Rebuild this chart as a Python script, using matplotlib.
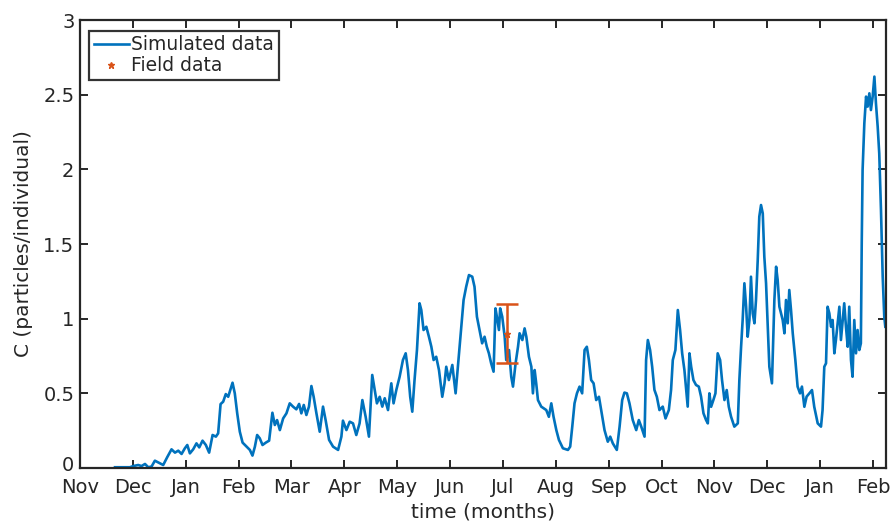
import numpy as np
import matplotlib
matplotlib.use("Agg")
import matplotlib.pyplot as plt
import matplotlib.transforms as mtransforms

# simulated concentration, time in days from 1 Nov
t_sim = [20.2, 25.0, 28.8, 30.7, 33.6, 35.5, 37.5, 39.4, 41.3, 43.2, 46.1, 48.0, 50.3, 52.8,
         54.8, 56.7, 58.6, 60.5, 61.9, 63.4, 65.3, 67.2, 68.8, 70.7, 72.6, 74.5, 76.5, 78.4,
         79.7, 81.1, 82.6, 84.1, 85.5, 86.8, 88.0, 89.3, 90.7, 92.2, 93.8, 96.1, 98.0, 99.5,
         100.9, 102.2, 103.7, 105.3, 107.2, 109.1, 111.0, 112.4, 113.7, 115.3, 117.2, 119.1,
         121.0, 122.9, 124.8, 126.4, 127.7, 129.1, 130.6, 132.1, 133.5, 134.8, 136.4, 138.3,
         140.2, 141.7, 143.7, 146.0, 148.9, 150.8, 151.7, 153.7, 155.6, 157.5, 159.4, 161.3,
         162.9, 164.8, 166.7, 168.6, 170.0, 171.3, 172.9, 174.4, 175.8, 177.7, 179.6, 180.9,
         182.5, 184.4, 186.3, 187.9, 189.2, 190.5, 191.7, 193.0, 194.4, 195.9, 196.9, 198.2,
         199.8, 201.3, 202.7, 204.0, 205.5, 207.1, 209.0, 210.3, 211.3, 212.8, 214.8, 216.7,
         218.0, 219.9, 221.3, 222.8, 224.4, 226.3, 227.6, 229.0, 230.5, 232.0, 233.4, 234.7,
         235.9, 237.2, 238.6, 239.7, 240.5, 241.7, 242.4,
         243.6, 245.0, 245.9, 247.5, 248.8, 249.8, 251.3, 252.7, 253.6, 255.2, 256.5, 257.5,
         259.0, 260.4, 261.3, 262.3, 263.2, 264.2, 266.1, 269.0, 270.5, 271.9, 273.2, 274.8,
         276.3, 278.6, 281.5, 282.8, 284.0, 285.3, 286.7, 288.2, 289.7, 291.1, 292.4, 293.6,
         294.9, 296.3, 297.8, 299.4, 300.7, 302.6, 304.5, 305.9, 307.4, 309.7, 311.3, 312.8,
         314.1, 315.5, 317.0, 318.9, 320.9, 322.4, 323.8, 325.7, 326.6, 327.6, 328.9, 330.1,
         331.4, 332.8, 334.3, 336.2, 337.8, 339.7, 341.0, 342.0, 343.5, 344.9, 346.2, 347.4,
         348.7, 350.6,
         351.6, 352.6, 353.9, 355.4, 357.0, 358.3, 359.7, 361.2, 362.2, 363.1, 364.1, 365.4,
         366.6, 367.9, 369.3, 370.4, 371.8, 373.1, 374.3, 375.6, 377.5, 379.5, 380.4, 381.4,
         382.3, 383.3, 384.3, 385.2, 386.2, 387.1, 388.1, 389.1, 390.0, 391.0, 391.9, 392.9,
         393.9, 394.8, 395.8, 396.7, 397.7, 399.2, 400.6, 401.6, 402.5, 403.5, 405.4, 406.4,
         407.3, 408.3, 409.2, 410.2, 411.2, 412.7, 414.0, 415.4, 416.5, 417.9, 419.2, 420.8,
         422.3, 423.6, 425.6, 427.5, 428.4, 429.4, 430.4, 431.3, 432.3, 433.3, 434.2, 435.2,
         436.1, 438.1, 439.0, 440.0, 440.9, 441.9, 442.9, 443.8, 444.8, 445.7, 446.7, 447.7,
         448.6, 449.6, 450.5,
         451.0, 451.5, 452.5, 453.5, 454.4, 455.4, 456.3, 457.3, 458.3, 459.2, 460.2, 461.1,
         462.1, 463.1, 464.0, 464.6]

c_sim = [0.005, 0.005, 0.005, 0.013, 0.02, 0.013, 0.027, 0.005, 0.01, 0.049, 0.031, 0.02, 0.072, 0.125,
         0.103, 0.116, 0.094, 0.132, 0.154, 0.098, 0.125, 0.165, 0.138, 0.183, 0.154, 0.103, 0.221, 0.21,
         0.232, 0.428, 0.444, 0.495, 0.477, 0.527, 0.571, 0.5, 0.366, 0.243, 0.17, 0.143, 0.121, 0.083,
         0.143, 0.221, 0.199, 0.154, 0.17, 0.183, 0.37, 0.288, 0.321, 0.254, 0.332, 0.366,
         0.433, 0.411, 0.393, 0.429, 0.366, 0.422, 0.355, 0.411, 0.549, 0.477, 0.366, 0.243,
         0.411, 0.321, 0.188, 0.143, 0.121, 0.21, 0.317, 0.254, 0.31, 0.299, 0.221, 0.299,
         0.455, 0.343, 0.21, 0.623, 0.523, 0.433, 0.477, 0.411, 0.467, 0.388, 0.567, 0.433,
         0.523, 0.611, 0.723, 0.768, 0.656, 0.477, 0.377, 0.589, 0.79, 1.103, 1.058, 0.924,
         0.946, 0.879, 0.812, 0.723, 0.745, 0.656, 0.477, 0.567, 0.678, 0.589, 0.69, 0.5,
         0.678, 0.946, 1.125, 1.214, 1.292, 1.281, 1.214, 1.013, 0.924, 0.835, 0.879, 0.812,
         0.768, 0.701, 0.645, 1.069, 1.013, 0.924, 1.069,
         1.013, 0.879, 0.723, 0.79, 0.611, 0.545, 0.701, 0.812, 0.902, 0.857, 0.935, 0.879,
         0.745, 0.678, 0.5, 0.656, 0.567, 0.455, 0.411, 0.388, 0.343, 0.433, 0.343, 0.254,
         0.188, 0.132, 0.121, 0.143, 0.277, 0.433, 0.5, 0.545, 0.5, 0.79, 0.812, 0.723,
         0.589, 0.567, 0.455, 0.477, 0.388, 0.254, 0.176, 0.21, 0.165, 0.121, 0.277, 0.455,
         0.505, 0.5, 0.433, 0.321, 0.254, 0.321, 0.277, 0.21, 0.723, 0.857, 0.79, 0.678,
         0.523, 0.477, 0.388, 0.411, 0.332, 0.388, 0.523, 0.723, 0.79, 1.058, 0.924, 0.768,
         0.656, 0.411,
         0.768, 0.678, 0.589, 0.556, 0.545, 0.478, 0.366, 0.321, 0.299, 0.5, 0.41, 0.455,
         0.5, 0.768, 0.723, 0.589, 0.455, 0.522, 0.41, 0.344, 0.277, 0.299, 0.589, 0.812,
         0.991, 1.237, 1.08, 0.879, 0.991, 1.281, 1.036, 0.969, 1.125, 1.393, 1.683, 1.761,
         1.705, 1.415, 1.237, 0.969, 0.678, 0.567, 1.125, 1.348, 1.259, 1.08, 0.991, 0.902,
         1.125, 0.969, 1.192, 1.058, 0.902, 0.723, 0.545, 0.5, 0.545, 0.41, 0.478, 0.5,
         0.522, 0.41, 0.299, 0.277, 0.388, 0.678, 0.701, 1.08, 1.036, 0.946, 0.991, 0.768,
         0.857, 1.08, 0.857, 0.991, 1.103, 0.946, 0.812, 1.08, 0.723, 0.611, 0.991, 0.768,
         0.924, 0.79, 0.835,
         1.505, 1.996, 2.308, 2.487, 2.42, 2.509, 2.397, 2.487, 2.621, 2.442, 2.286, 2.107,
         1.728, 1.281, 1.013, 0.946]

# field sample (mean and spread)
t_field = [246.5]
c_field = [0.9]
c_field_err = [0.2]

months = ['Nov', 'Dec', 'Jan', 'Feb', 'Mar', 'Apr', 'May', 'Jun', 'Jul', 'Aug',
          'Sep', 'Oct', 'Nov', 'Dec', 'Jan', 'Feb']
month_len = 30.5

blue = '#0072BD'
orange = '#D95319'
axcol = '#262626'

fig = plt.figure(figsize=(8.95, 5.27), dpi=100)
ax = fig.add_axes([80/895, 59/527, 806/895, 448/527])

ax.plot(t_sim, c_sim, color=blue, lw=1.9, label='Simulated data')
ax.errorbar(t_field, c_field, yerr=c_field_err, fmt='none',
            ecolor=orange, elinewidth=1.8, capsize=8, capthick=1.8)
ax.plot(t_field, c_field, '*', color=orange, ms=5, label='Field data')

ax.set_xlim(0, 465)
ax.set_ylim(0, 3)
ax.set_xticks(np.arange(len(months)) * month_len)
ax.set_xticklabels(months)
ax.set_yticks(np.arange(0, 3.01, 0.5))
ax.set_yticklabels(['0', '0.5', '1', '1.5', '2', '2.5', '3'])

ax.tick_params(direction='in', top=True, right=True, length=6, width=1.4,
               labelsize=14, colors=axcol)
ax.tick_params(axis='x', pad=7)
ax.tick_params(axis='y', pad=4)
for s in ax.spines.values():
    s.set_linewidth(1.6)
    s.set_color(axcol)

# lift the "0" a little so it clears the first month name
zero_lbl = ax.get_yticklabels()[0]
zero_lbl.set_transform(zero_lbl.get_transform() +
                       mtransforms.ScaledTranslation(0, 3/72, fig.dpi_scale_trans))

ax.set_xlabel('time (months)', fontsize=14.5, color=axcol, labelpad=4)
ax.set_ylabel('C (particles/individual)', fontsize=14.5, color=axcol)
ax.yaxis.set_label_coords(-0.058, 0.5)

leg = ax.legend(loc='upper left', bbox_to_anchor=(0.011, 0.976), borderaxespad=0,
                fontsize=13.5, frameon=True, fancybox=False, handlelength=1.9,
                handletextpad=0.1, borderpad=0.25, labelspacing=0.1)
leg.get_frame().set_edgecolor('black')
leg.get_frame().set_linewidth(1.6)
for txt in leg.get_texts():
    txt.set_color(axcol)

fig.savefig('out.png', dpi=100)
